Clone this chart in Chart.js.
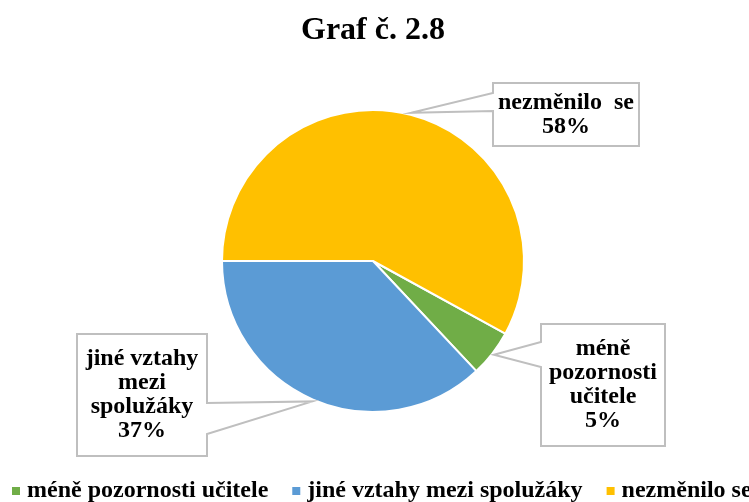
<!DOCTYPE html>
<html>
<head>
<meta charset="utf-8">
<script src="https://cdn.jsdelivr.net/npm/chart.js@4"></script>
<style>
  html, body { margin: 0; padding: 0; background: #fff; overflow: hidden; }
  canvas { display: block; }
</style>
</head>
<body>
<canvas id="c" width="749" height="502"></canvas>
<script>
const titleText = 'Graf č. 2.8';
const categories = ['méně pozornosti učitele', 'jiné vztahy mezi spolužáky', 'nezměnilo se'];
const values = [5, 37, 58];
const colors = ['#70AD47', '#5B9BD5', '#FFC000'];
const labelLines = [['méně', 'pozornosti', 'učitele'], ['jiné vztahy', 'mezi', 'spolužáky'], ['nezměnilo  se']];
const startAngleDeg = 118.8;

const FONT = '"Liberation Serif", "Times New Roman", serif';

// callout boxes, offsets relative to pie centre
const calloutBoxes = [
  { dx: 168, dy: 63, w: 124, h: 122, side: 'left', p1: 18, p2: 43 },
  { dx: -296, dy: 73, w: 130, h: 122, side: 'right', p1: 69, p2: 100 },
  { dx: 120, dy: -178, w: 146, h: 63, side: 'left', p1: 10, p2: 28 }
];

const calloutPlugin = {
  id: 'callouts',
  afterDatasetsDraw(chart) {
    const ctx = chart.ctx;
    const meta = chart.getDatasetMeta(0);
    const total = values.reduce((a, b) => a + b, 0);
    meta.data.forEach((arc, i) => {
      const b = calloutBoxes[i];
      const mid = (arc.startAngle + arc.endAngle) / 2;
      const tx = arc.x + Math.cos(mid) * (arc.outerRadius + 2);
      const ty = arc.y + Math.sin(mid) * (arc.outerRadius + 2);
      const L = arc.x + b.dx, T = arc.y + b.dy, R = L + b.w, B = T + b.h;
      ctx.save();
      ctx.beginPath();
      if (b.side === 'left') {
        ctx.moveTo(L, T); ctx.lineTo(R, T); ctx.lineTo(R, B); ctx.lineTo(L, B);
        ctx.lineTo(L, T + b.p2); ctx.lineTo(tx, ty); ctx.lineTo(L, T + b.p1);
      } else {
        ctx.moveTo(L, T); ctx.lineTo(R, T); ctx.lineTo(R, T + b.p1); ctx.lineTo(tx, ty);
        ctx.lineTo(R, T + b.p2); ctx.lineTo(R, B); ctx.lineTo(L, B);
      }
      ctx.closePath();
      ctx.fillStyle = '#ffffff';
      ctx.fill();
      ctx.strokeStyle = '#BFBFBF';
      ctx.lineWidth = 2;
      ctx.lineJoin = 'miter';
      ctx.stroke();
      const lines = labelLines[i].concat([Math.round(values[i] / total * 100) + '%']);
      const lh = 24;
      const cy = (T + B) / 2;
      ctx.fillStyle = '#000';
      ctx.font = 'bold 24px ' + FONT;
      ctx.textAlign = 'center';
      ctx.textBaseline = 'middle';
      lines.forEach((ln, k) => {
        ctx.fillText(ln, (L + R) / 2, cy + (k - (lines.length - 1) / 2) * lh);
      });
      ctx.restore();
    });
  }
};

const legendPlugin = {
  id: 'bottomLegend',
  afterDraw(chart) {
    const ctx = chart.ctx;
    ctx.save();
    ctx.font = 'bold 24px ' + FONT;
    ctx.textAlign = 'left';
    ctx.textBaseline = 'alphabetic';
    let x = 12;
    categories.forEach((c, i) => {
      ctx.fillStyle = colors[i];
      ctx.fillRect(x, 487, 8, 8);
      ctx.fillStyle = '#000';
      ctx.fillText(c, x + 15, 497);
      x += 15 + ctx.measureText(c).width + 24;
    });
    ctx.restore();
  }
};

new Chart(document.getElementById('c'), {
  type: 'pie',
  data: {
    labels: categories,
    datasets: [{
      data: values,
      backgroundColor: colors,
      borderColor: '#ffffff',
      borderWidth: 2
    }]
  },
  options: {
    responsive: false,
    devicePixelRatio: 1,
    animation: false,
    rotation: startAngleDeg,
    layout: { padding: { top: 0, bottom: 89, left: 0, right: 3 } },
    plugins: {
      legend: { display: false },
      tooltip: { enabled: false },
      title: {
        display: true,
        text: titleText,
        color: '#000',
        font: { family: FONT, size: 32, weight: 'bold' },
        padding: { top: 12, bottom: 58.6 }
      }
    }
  },
  plugins: [calloutPlugin, legendPlugin]
});
</script>
</body>
</html>
